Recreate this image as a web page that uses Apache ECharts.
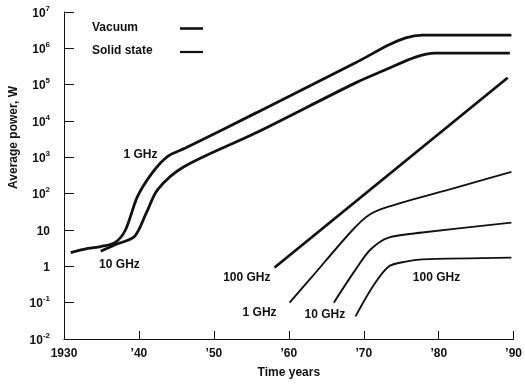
<!DOCTYPE html>
<html><head><meta charset="utf-8">
<script src="https://cdn.jsdelivr.net/npm/echarts@6/dist/echarts.min.js"></script>
<style>html,body{margin:0;padding:0;background:#fff}#c{width:525px;height:385px}</style>
</head><body><div id="c"></div>
<script>
// ---- data (year, average power in W) ----
const vacuum1GHz = [[1930.9,2.4],[1933.2,3.1],[1934.9,3.5],[1936.8,4.5],[1938.2,10],[1939.8,83],[1941.8,380],[1943.8,1050],[1946.2,1800],[1955.7,17000],[1968.9,400000],[1973.3,1230000],[1975.6,1950000],[1977.8,2300000],[1989.7,2300000]];
const vacuum10GHz = [[1934.9,2.6],[1936.9,4.0],[1939.4,6.6],[1941.0,30],[1942.5,130],[1946.0,550],[1955.7,4800],[1968.9,112000],[1972.9,257000],[1976.9,575000],[1979.5,740000],[1989.5,740000]];
const vacuum100GHz = [[1958.1,0.93],[1989.2,155000]];
const solid1GHz = [[1960.1,0.10],[1963.0,0.49],[1968.5,10],[1970.7,26],[1973.3,44],[1982.2,145],[1989.7,400]];
const solid10GHz = [[1966.0,0.10],[1968.9,0.81],[1970.9,2.9],[1973.3,6.2],[1977.8,8.5],[1989.7,16]];
const solid100GHz = [[1968.9,0.042],[1971.2,0.28],[1973.3,0.98],[1975.6,1.35],[1977.8,1.55],[1989.7,1.74]];
const curveLabels = [[1940.2,1175,'1 GHz'],[1937.4,1.12,'10 GHz'],[1954.4,0.49,'100 GHz'],[1956.1,0.054,'1 GHz'],[1964.8,0.048,'10 GHz'],[1979.7,0.49,'100 GHz']];
const xTicks = [1930,1940,1950,1960,1970,1980,1990];
const xTickText = ['1930','’40','’50','’60','’70','’80','’90'];
const yExp = [-2,-1,0,1,2,3,4,5,6,7];
const legendNames = ['Vacuum','Solid state'];
const xTitle = 'Time years';
const yTitle = 'Average power, W';

const FONT = '"Liberation Sans", Arial, sans-serif';
const INK = '#111';
const VAC_W = 2.8, SS_W = 1.9;
const chart = echarts.init(document.getElementById('c'), null, {renderer:'canvas'});

function line(name, data, w){
  return {type:'line', name:name, data:data, showSymbol:false, symbol:'none',
    smooth:0.3, lineStyle:{color:INK, width:w}, itemStyle:{color:INK},
    silent:true, animation:false, z:3};
}
const txt = {fontFamily:FONT, fontWeight:'bold', fontSize:12, fill:INK};

chart.setOption({
  animation:false,
  grid:{left:64, right:6, top:12, bottom:46, containLabel:false},
  xAxis:{type:'value', min:1930, max:1990, interval:10,
    name:xTitle, nameLocation:'middle', nameGap:28,
    nameTextStyle:{fontFamily:FONT, fontWeight:'bold', fontSize:12, color:INK},
    axisLine:{show:true, lineStyle:{color:INK, width:1}},
    axisTick:{show:true, inside:true, length:8, lineStyle:{color:INK}},
    splitLine:{show:false},
    axisLabel:{margin:9, fontFamily:FONT, fontWeight:'bold', fontSize:12, color:INK,
      formatter:v=>{const i=xTicks.indexOf(Math.round(v)); return i>=0?xTickText[i]:'';}}},
  yAxis:{type:'log', logBase:10, min:0.01, max:1e7, splitNumber:10,
    axisLine:{show:true, lineStyle:{color:INK, width:1}},
    axisTick:{show:true, inside:true, length:10, lineStyle:{color:INK}},
    minorTick:{show:false}, splitLine:{show:false},
    axisLabel:{margin:14, fontFamily:FONT, fontWeight:'bold', fontSize:12, color:INK,
      formatter:v=>{
        const e=Math.round(Math.log10(v));
        if(yExp.indexOf(e)<0) return '';
        if(e===0) return '{b|1}';
        if(e===1) return '{b|10}';
        return '{b|10}{s|'+(e<0?'-':'')+Math.abs(e)+'}';
      },
      rich:{b:{fontFamily:FONT, fontWeight:'bold', fontSize:12, color:INK, lineHeight:15, verticalAlign:'bottom'},
            s:{fontFamily:FONT, fontWeight:'bold', fontSize:8, color:INK, lineHeight:15, verticalAlign:'top'}}}},
  graphic:[
    {type:'text', left:8, top:86, rotation:Math.PI/2, style:Object.assign({text:yTitle}, txt)},
    {type:'text', left:92, top:22, style:Object.assign({text:legendNames[0]}, txt)},
    {type:'line', shape:{x1:180, y1:28.5, x2:203, y2:28.5}, style:{stroke:INK, lineWidth:2.6}},
    {type:'text', left:92, top:45, style:Object.assign({text:legendNames[1]}, txt)},
    {type:'line', shape:{x1:180, y1:52, x2:203, y2:52}, style:{stroke:INK, lineWidth:2.2}}
  ],
  series:[
    line('Vacuum', vacuum1GHz, VAC_W),
    line('Vacuum', vacuum10GHz, VAC_W),
    line('Vacuum', vacuum100GHz, VAC_W),
    line('Solid state', solid1GHz, SS_W),
    line('Solid state', solid10GHz, SS_W),
    line('Solid state', solid100GHz, SS_W),
    {type:'scatter', name:'labels', symbolSize:0, silent:true, z:4,
      itemStyle:{opacity:1, color:INK},
      data:curveLabels.map(d=>({value:[d[0],d[1]], name:d[2]})),
      label:{show:true, position:'inside', formatter:p=>p.name, textBorderWidth:0, opacity:1,
        fontFamily:FONT, fontWeight:'bold', fontSize:12, color:INK}}
  ]
});
</script></body></html>
